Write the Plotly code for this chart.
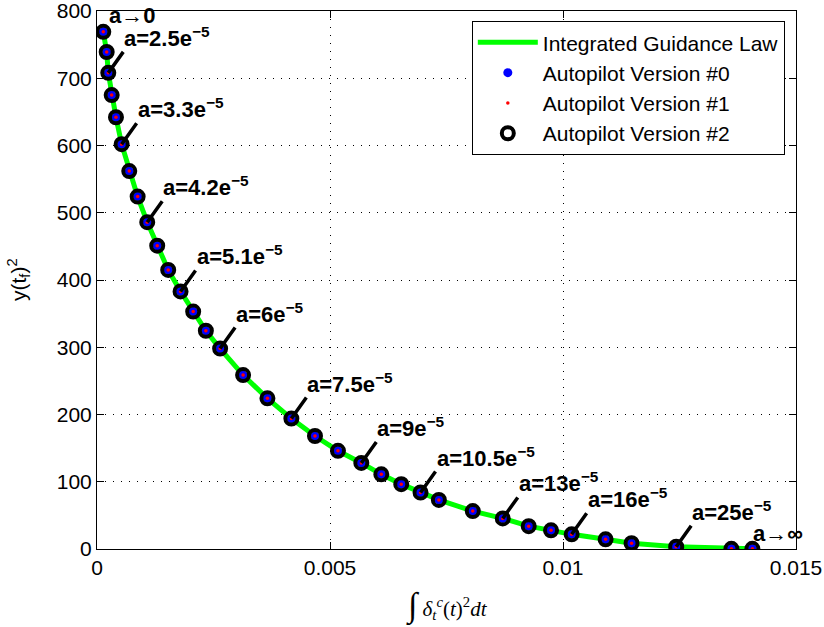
import plotly.graph_objects as go

# ---- data ----
x_vals = [0.000135, 0.000208, 0.000242, 0.000315, 0.000407, 0.000529, 0.000692, 0.000872,
          0.001078, 0.001292, 0.001528, 0.001793, 0.002064, 0.002336, 0.002642, 0.003135,
          0.003657, 0.004171, 0.004678, 0.005171, 0.005672, 0.006101, 0.006529, 0.006943,
          0.007336, 0.008064, 0.008707, 0.009264, 0.009743, 0.010186, 0.010914, 0.011471,
          0.012429, 0.013614, 0.014064]
y_vals = [769, 739, 708, 675, 642, 602, 562, 524, 486, 451, 415, 383, 353, 324.5, 298, 258.6,
          224, 194, 168, 146, 128, 111, 96.4, 84, 73, 56.4, 45.5, 34, 27.7, 21.8, 14.4, 8.5,
          3.4, 0.3, 0.2]

label_idx = [2, 5, 8, 11, 14, 17, 20, 23, 26, 29, 32]
label_txt = ["a=2.5e<sup>\u22125</sup>", "a=3.3e<sup>\u22125</sup>", "a=4.2e<sup>\u22125</sup>",
             "a=5.1e<sup>\u22125</sup>", "a=6e<sup>\u22125</sup>", "a=7.5e<sup>\u22125</sup>",
             "a=9e<sup>\u22125</sup>", "a=10.5e<sup>\u22125</sup>", "a=13e<sup>\u22125</sup>",
             "a=16e<sup>\u22125</sup>", "a=25e<sup>\u22125</sup>"]
end_labels = ["a\u21920", "a\u2192\u221e"]

x_ticks = [0, 0.005, 0.01, 0.015]
x_ticktext = ["0", "0.005", "0.01", "0.015"]
y_ticks = [0, 100, 200, 300, 400, 500, 600, 700, 800]

series_names = ["Integrated Guidance Law", "Autopilot Version #0",
                "Autopilot Version #1", "Autopilot Version #2"]

FONT = "Liberation Sans, Arial, sans-serif"
LBL = 22

fig = go.Figure()
fig.add_trace(go.Scatter(x=x_vals, y=y_vals, mode="lines", name=series_names[0],
                         line=dict(color="#00ff00", width=5)))
fig.add_trace(go.Scatter(x=x_vals, y=y_vals, mode="markers", name=series_names[1],
                         marker=dict(color="#0000ff", size=9, symbol="circle")))
fig.add_trace(go.Scatter(x=x_vals, y=y_vals, mode="markers", name=series_names[2],
                         marker=dict(color="#ff0000", size=3.5, symbol="circle")))
fig.add_trace(go.Scatter(x=x_vals, y=y_vals, mode="markers", name=series_names[3],
                         marker=dict(color="black", size=12, symbol="circle-open",
                                     line=dict(width=4, color="black"))))

annotations = []
for i, t in zip(label_idx, label_txt):
    annotations.append(dict(x=x_vals[i], y=y_vals[i], xref="x", yref="y", text="<b>" + t + "</b>",
                            showarrow=True, arrowhead=0, arrowwidth=3.5, arrowcolor="black",
                            ax=15, ay=-21, xanchor="left", yanchor="bottom", standoff=0,
                            borderpad=0, font=dict(family=FONT, size=LBL, color="black")))
annotations.append(dict(x=x_vals[0], y=y_vals[0], xref="x", yref="y", text="<b>" + end_labels[0] + "</b>",
                        showarrow=False, xanchor="left", yanchor="bottom", xshift=5, yshift=3,
                        borderpad=0, font=dict(family=FONT, size=LBL, color="black")))
annotations.append(dict(x=x_vals[-1], y=y_vals[-1], xref="x", yref="y", text="<b>" + end_labels[1] + "</b>",
                        showarrow=False, xanchor="left", yanchor="bottom", xshift=0, yshift=2,
                        borderpad=0, font=dict(family=FONT, size=LBL, color="black")))
# axis titles
annotations.append(dict(x=0.5, y=0, xref="paper", yref="paper", yshift=-57, yanchor="middle",
                        xanchor="center", showarrow=False,
                        text='<span style="font-size:34px">\u222b</span> <i>\u03b4<sub>t</sub><sup>c</sup></i>(<i>t</i>)<sup>2</sup><i>dt</i>',
                        font=dict(family="Liberation Serif, DejaVu Serif, serif", size=21, color="black")))
annotations.append(dict(x=0, y=0.5, xref="paper", yref="paper", xshift=-79, xanchor="center",
                        yanchor="middle", showarrow=False, textangle=-90,
                        text="y(t<sub>f</sub>)<sup>2</sup>",
                        font=dict(family=FONT, size=21, color="black")))
fig.update_layout(annotations=annotations)

axis_common = dict(showline=True, linecolor="black", linewidth=1, mirror="ticks",
                   ticks="inside", ticklen=7, tickcolor="black", tickwidth=1,
                   showgrid=True, gridcolor="black", griddash="1px,7px", gridwidth=1,
                   zeroline=False, automargin=False, ticklabeloverflow="allow",
                   tickfont=dict(family=FONT, size=21, color="black"))

fig.update_xaxes(range=[0, 0.015], tickvals=x_ticks, ticktext=x_ticktext, **axis_common)
fig.update_yaxes(range=[0, 800], tickvals=y_ticks, **axis_common)

fig.update_layout(
    width=824, height=627,
    margin=dict(l=97, r=28, t=11, b=78),
    plot_bgcolor="white", paper_bgcolor="white",
    showlegend=True,
    legend=dict(x=0.984, xanchor="right", y=0.981, yanchor="top",
                bgcolor="white", bordercolor="black", borderwidth=1,
                font=dict(family=FONT, size=21, color="black"),
                tracegroupgap=0, itemwidth=60),
)

fig.write_html("out.html")
